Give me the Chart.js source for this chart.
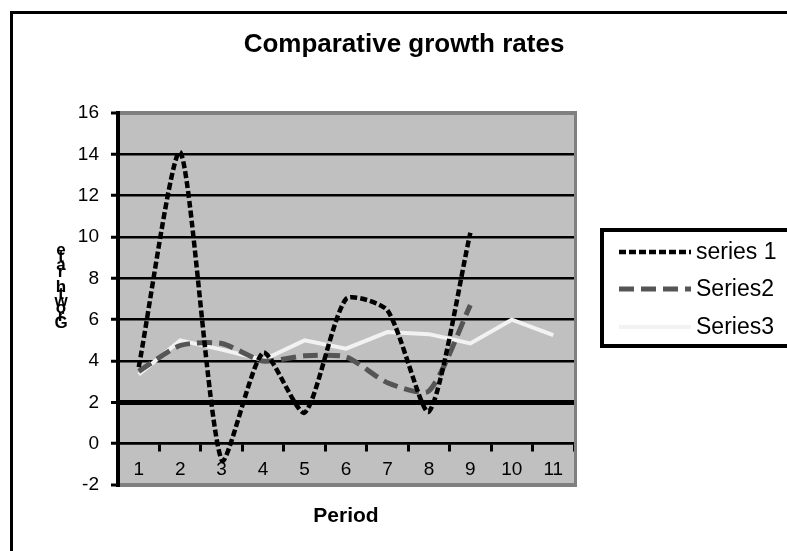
<!DOCTYPE html>
<html>
<head>
<meta charset="utf-8">
<script src="https://cdn.jsdelivr.net/npm/chart.js@4/dist/chart.umd.min.js"></script>
<style>
html,body{margin:0;padding:0;background:#fff;}
#wrap{width:787px;height:551px;position:relative;}
</style>
</head>
<body>
<div id="wrap"><canvas id="c" width="787" height="551"></canvas></div>
<script>
const categories = ['1','2','3','4','5','6','7','8','9','10','11'];
const series1 = [3.7, 14.1, -0.8, 4.4, 1.5, 7.0, 6.45, 1.55, 10.2, null, null];
const series2 = [3.5, 4.75, 4.85, 4.0, 4.25, 4.2, 2.95, 2.55, 6.7, null, null];
const series3 = [3.35, 5.0, 4.55, 4.05, 5.0, 4.6, 5.4, 5.3, 4.85, 6.0, 5.25];
const seriesNames = ['series 1', 'Series2', 'Series3'];
const titleText = 'Comparative growth rates';
const xTitle = 'Period';
const yTitle = 'Growth rate';
const yMin = -2, yMax = 16, yStep = 2;

const FONT = '"Liberation Sans", Arial, sans-serif';

const decor = {
  id: 'decor',
  beforeDraw(chart) {
    const ctx = chart.ctx, a = chart.chartArea;
    ctx.save();
    ctx.fillStyle = '#ffffff';
    ctx.fillRect(0, 0, chart.width, chart.height);
    ctx.fillStyle = '#c0c0c0';
    ctx.fillRect(a.left, a.top, a.right - a.left, a.bottom - a.top);
    ctx.strokeStyle = '#000';
    ctx.lineWidth = 3;
    ctx.strokeRect(11.5, 12.5, 900, 700);
    ctx.restore();
  },
  beforeDatasetsDraw(chart) {
    const ctx = chart.ctx, a = chart.chartArea;
    ctx.save();
    ctx.strokeStyle = '#808080';
    ctx.lineWidth = 3;
    ctx.beginPath();
    ctx.moveTo(a.right + 1.5, a.top - 2);
    ctx.lineTo(a.right + 1.5, a.bottom + 2);
    ctx.stroke();
    ctx.restore();
  },
  afterDraw(chart) {
    const ctx = chart.ctx;
    ctx.save();
    ctx.fillStyle = '#000';
    ctx.font = 'bold 26px ' + FONT;
    ctx.textAlign = 'center';
    ctx.textBaseline = 'alphabetic';
    ctx.fillText(titleText, 404, 52);
    ctx.font = 'bold 21px ' + FONT;
    ctx.fillText(xTitle, 346, 522);
    ctx.font = 'bold 17px ' + FONT;
    const chars = yTitle.split('');
    chars.forEach((ch, i) => {
      ctx.fillText(ch, 61, 328 - i * 7.3);
    });
    ctx.lineWidth = 4;
    ctx.strokeStyle = '#000';
    ctx.strokeRect(602, 230, 300, 116);
    const rows = [252, 289, 327];
    chart.data.datasets.forEach((ds, i) => {
      ctx.save();
      ctx.strokeStyle = ds.borderColor;
      ctx.lineWidth = ds.borderWidth;
      ctx.setLineDash(ds.borderDash || []);
      ctx.beginPath();
      ctx.moveTo(619, rows[i]);
      ctx.lineTo(691, rows[i]);
      ctx.stroke();
      ctx.restore();
      ctx.fillStyle = '#000';
      ctx.font = '23px ' + FONT;
      ctx.textAlign = 'left';
      ctx.textBaseline = 'middle';
      ctx.fillText(ds.label, 696, rows[i] + 1);
    });
    ctx.restore();
  }
};

new Chart(document.getElementById('c'), {
  type: 'line',
  data: {
    labels: categories,
    datasets: [
      { label: seriesNames[0], data: series1, borderColor: '#000000', borderWidth: 4.5, borderDash: [7, 3], tension: 0.22, pointRadius: 0, spanGaps: false },
      { label: seriesNames[1], data: series2, borderColor: '#555555', borderWidth: 5, borderDash: [15, 7], tension: 0.22, pointRadius: 0, spanGaps: false },
      { label: seriesNames[2], data: series3, borderColor: '#f2f2f2', borderWidth: 4, tension: 0, pointRadius: 0 }
    ]
  },
  options: {
    responsive: false,
    animation: false,
    devicePixelRatio: 1,
    layout: { padding: { left: 0, top: 113, right: 213, bottom: 66 } },
    plugins: { legend: { display: false }, title: { display: false }, tooltip: { enabled: false } },
    scales: {
      x: {
        type: 'category',
        position: { y: 0 },
        offset: true,
        grid: { offset: true, drawOnChartArea: false, drawTicks: true, tickLength: 7, tickWidth: 3, tickColor: '#000' },
        border: { display: true, color: '#000', width: 2.5 },
        ticks: { color: '#000', font: { family: FONT, size: 19 }, padding: 8, maxRotation: 0, autoSkip: false }
      },
      y: {
        min: yMin, max: yMax,
        afterFit(s) { s.width = 118; },
        ticks: { stepSize: yStep, color: '#000', font: { family: FONT, size: 19 }, padding: 12 },
        border: { display: true, color: '#000', width: 4 },
        grid: {
          color(c) { const v = c.tick ? c.tick.value : 0; return (v === yMax || v === yMin) ? '#808080' : '#000'; },
          lineWidth(c) { const v = c.tick ? c.tick.value : 0; if (v === yMax || v === yMin) return 4; if (v === 2) return 5; return 2.5; },
          tickLength: 7, tickWidth: 3, tickColor: '#000'
        }
      }
    }
  },
  plugins: [decor]
});
</script>
</body>
</html>
